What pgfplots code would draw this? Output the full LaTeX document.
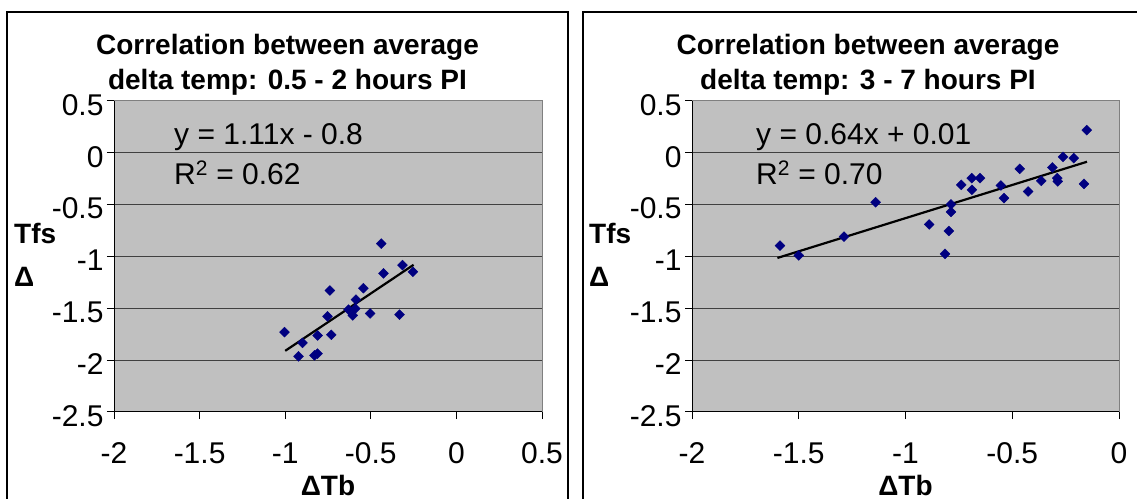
\documentclass[border=0pt]{standalone}
\usepackage{pgfplots}
\pgfplotsset{compat=1.18}
\usepackage{fontspec}
\setmainfont{Liberation Sans}
\definecolor{plotgray}{RGB}{192,192,192}
\definecolor{navy}{RGB}{0,0,128}
\newcommand{\tk}{\fontsize{30bp}{34bp}\selectfont}
\newcommand{\tl}{\fontsize{28bp}{35bp}\selectfont\bfseries}

\pgfplotstableread{
x y
-0.439 -0.876
-0.315 -1.083
-0.254 -1.148
-0.426 -1.163
-0.739 -1.328
-0.543 -1.306
-0.587 -1.416
-0.630 -1.513
-0.591 -1.503
-0.605 -1.568
-0.504 -1.549
-0.332 -1.561
-0.753 -1.578
-1.004 -1.730
-0.899 -1.833
-0.811 -1.762
-0.731 -1.755
-0.922 -1.963
-0.829 -1.953
-0.811 -1.937
}\leftdata

\pgfplotstableread{
x y
-1.588 -0.895
-1.500 -0.990
-1.288 -0.809
-1.140 -0.477
-0.889 -0.691
-0.797 -0.754
-0.815 -0.974
-0.787 -0.498
-0.787 -0.569
-0.739 -0.309
-0.689 -0.357
-0.690 -0.244
-0.651 -0.244
-0.553 -0.315
-0.539 -0.437
-0.465 -0.154
-0.426 -0.373
-0.364 -0.270
-0.312 -0.141
-0.289 -0.244
-0.287 -0.276
-0.262 -0.039
-0.212 -0.051
-0.164 -0.299
-0.151 0.219
}\rightdata

\pgfplotsset{
 myax/.style={
  scale only axis, height=311bp,
  ymin=-2.5, ymax=0.5,
  ytick={-2.5,-2,-1.5,-1,-0.5,0,0.5},
  yticklabels={-2.5,-2,-1.5,-1,-0.5,0,0.5},
  axis x line*=bottom, axis y line*=left,
  axis line style={black, line width=1bp, -},
  ymajorgrids, grid style={black!75, line width=1bp},
  tick style={black, line width=1bp},
  tick align=outside, major tick length=7bp,
  axis background/.style={fill=plotgray},
  ticklabel style={font=\tk},
  xticklabel style={yshift=-20bp},
  yticklabel style={yshift=-4bp},
  clip=false,
  after end axis/.code={
    \draw[black!50, line width=1bp] (rel axis cs:0,1) -- (rel axis cs:1,1) -- (rel axis cs:1,0);
  },
 }
}

\begin{document}
\begin{tikzpicture}
\path[use as bounding box] (0,0) rectangle (1137bp,499bp);

% panel borders
\draw[black, line width=1.5bp] (7bp,-10bp) -- (7bp,487bp) -- (568bp,487bp) -- (568bp,-10bp);
\draw[black, line width=1.5bp] (583bp,-10bp) -- (583bp,487bp) -- (1160bp,487bp);

% left axis
\begin{axis}[myax, at={(114bp,87bp)}, anchor=south west, width=428bp,
  xmin=-2, xmax=0.5,
  xtick={-2,-1.5,-1,-0.5,0,0.5},
  xticklabels={-2,-1.5,-1,-0.5,0,0.5}]
\addplot[only marks, mark=square*, mark size=3.5bp,
  mark options={rotate=45, draw=navy, fill=navy}] table[x=x,y=y] {\leftdata};
\addplot[black, line width=2.2bp] coordinates {(-1.0,-1.91) (-0.25,-1.08)};
\end{axis}

% right axis
\begin{axis}[myax, at={(692bp,87bp)}, anchor=south west, width=427bp,
  xmin=-2, xmax=0,
  xtick={-2,-1.5,-1,-0.5,0},
  xticklabels={-2,-1.5,-1,-0.5,0}]
\addplot[only marks, mark=square*, mark size=3.5bp,
  mark options={rotate=45, draw=navy, fill=navy}] table[x=x,y=y] {\rightdata};
\addplot[black, line width=2.2bp] coordinates {(-1.6,-1.014) (-0.15,-0.086)};
\end{axis}

% titles
\node[font=\tl, align=center] at (287.5bp,434.5bp) {Correlation between average\\delta temp: 0.5 - 2 hours PI};
\node[font=\tl, align=center] at (868bp,434.5bp) {Correlation between average\\delta temp: 3 - 7 hours PI};

% x labels
\node[font=\tl] at (328bp,14bp) {ΔTb};
\node[font=\tl] at (905.5bp,14bp) {ΔTb};

% y labels
\node[font=\tl, anchor=west, inner sep=0pt] at (14bp,266bp) {Tfs};
\node[font=\tl, anchor=west, inner sep=0pt] at (14bp,222bp) {Δ};
\node[font=\tl, anchor=west, inner sep=0pt] at (589bp,266bp) {Tfs};
\node[font=\tl, anchor=west, inner sep=0pt] at (589bp,222bp) {Δ};

% equations
\node[font=\tk, anchor=west, inner sep=0pt] at (174bp,362bp) {y = 1.11x - 0.8};
\node[font=\tk, anchor=west, inner sep=0pt] at (174bp,326bp) {R\textsuperscript{2} = 0.62};
\node[font=\tk, anchor=west, inner sep=0pt] at (756bp,362bp) {y = 0.64x + 0.01};
\node[font=\tk, anchor=west, inner sep=0pt] at (756bp,326bp) {R\textsuperscript{2} = 0.70};
\end{tikzpicture}
\end{document}
